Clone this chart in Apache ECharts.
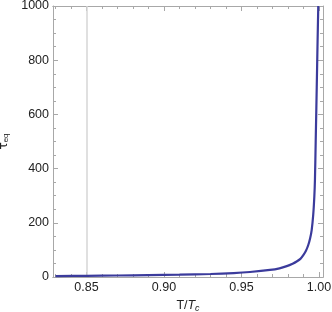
<!DOCTYPE html>
<html><head><meta charset="utf-8">
<script src="https://cdn.jsdelivr.net/npm/echarts@6/dist/echarts.min.js"></script>
<style>html,body{margin:0;padding:0;background:#fff}#c{width:332px;height:312px}</style>
</head><body><div id="c"></div>
<script>
// T / Tc values and relaxation time tau_eq
var tempRatio = [0.83, 0.85, 0.87, 0.89, 0.91, 0.93, 0.945, 0.9555, 0.9684, 0.9745, 0.9792, 0.983, 0.9856, 0.988, 0.9899, 0.9916, 0.9931, 0.9943, 0.9953, 0.9963, 0.997, 0.9974, 0.99789, 0.99856, 0.99904, 0.99955];
var tauEq = [3.5, 4.5, 5.5, 7, 8.5, 11, 14.5, 18.5, 26, 32, 40, 49, 57, 67, 81, 97, 118, 143, 173, 230, 296, 358, 500, 700, 850, 1000];
var xMajorTicks = [0.85, 0.90, 0.95, 1.00];
var xMinorTicks = [0.83, 0.84, 0.86, 0.87, 0.88, 0.89, 0.91, 0.92, 0.93, 0.94, 0.96, 0.97, 0.98, 0.99];
var yTicks = [0, 200, 400, 600, 800, 1000];
var refLineX = 0.85;

var frameColor = '#a8a8a8';
var labelColor = '#222';
var xMin = 0.8284, xMax = 1.0026;

function xAxisDef(pos, ticks, len, labels) {
  return {
    type: 'value', position: pos, min: xMin, max: xMax,
    axisLine: {show: true, onZero: false, lineStyle: {color: frameColor, width: 1}},
    axisTick: {show: true, inside: true, length: len, customValues: ticks, lineStyle: {color: frameColor}},
    axisLabel: {show: labels, customValues: ticks, margin: 4, color: labelColor, fontSize: 12.5,
      fontFamily: 'Liberation Sans, Arial', formatter: function (v) { return v.toFixed(2); }},
    splitLine: {show: false}
  };
}
var data = tempRatio.map(function (t, i) { return [t, tauEq[i]]; });

var chart = echarts.init(document.getElementById('c'), null, {renderer: 'canvas'});
var xa0 = xAxisDef('bottom', xMajorTicks, 5, true);
xa0.name = 'T/{i|T}{s|c}';
xa0.nameLocation = 'middle';
xa0.nameGap = 21;
xa0.nameTextStyle = {color: labelColor, fontSize: 12.5, fontFamily: 'Liberation Sans, Arial',
  rich: {i: {fontStyle: 'italic', fontSize: 12.5, fontFamily: 'Liberation Sans, Arial', color: labelColor},
         s: {fontStyle: 'italic', fontSize: 9, fontFamily: 'Liberation Sans, Arial', color: labelColor, verticalAlign: 'bottom', padding: [6, 0, 0, 0]}}};
chart.setOption({
  animation: false,
  grid: {left: 53, right: 9, top: 6, bottom: 35, containLabel: false, outerBoundsMode: 'none'},
  xAxis: [
    xa0,
    xAxisDef('bottom', xMinorTicks, 3, false),
    xAxisDef('top', xMajorTicks, 5, false),
    xAxisDef('top', xMinorTicks, 3, false)
  ],
  yAxis: [
    {type: 'value', position: 'left', min: 0, max: 1000, interval: 200,
     name: '\u03c4{s|eq}', nameLocation: 'middle', nameGap: 41, nameRotate: 90,
     nameTextStyle: {color: labelColor, fontSize: 12, fontFamily: 'DejaVu Sans',
       rich: {s: {fontSize: 8, fontFamily: 'Liberation Sans, Arial', color: labelColor, verticalAlign: 'bottom', padding: [5, 0, 0, 0]}}},
     axisLine: {show: true, onZero: false, lineStyle: {color: frameColor}},
     axisTick: {show: true, inside: true, length: 5, lineStyle: {color: frameColor}},
     minorTick: {show: true, splitNumber: 4, length: 3, lineStyle: {color: frameColor}},
     axisLabel: {margin: 4, color: labelColor, fontSize: 12.5, fontFamily: 'Liberation Sans, Arial',
       customValues: yTicks, formatter: function (v) { return String(v); }},
     splitLine: {show: false}, minorSplitLine: {show: false}},
    {type: 'value', position: 'right', min: 0, max: 1000, interval: 200,
     axisLine: {show: true, onZero: false, lineStyle: {color: frameColor}},
     axisTick: {show: true, inside: true, length: 5, lineStyle: {color: frameColor}},
     minorTick: {show: true, splitNumber: 4, length: 3, lineStyle: {color: frameColor}},
     axisLabel: {show: false}, splitLine: {show: false}, minorSplitLine: {show: false}}
  ],
  series: [{
    type: 'line', xAxisIndex: 0, yAxisIndex: 0, data: data, showSymbol: false, smooth: 0.3,
    lineStyle: {color: '#3b3b9c', width: 2.2}, itemStyle: {color: '#3b3b9c'},
    clip: true, z: 3,
    markLine: {silent: true, symbol: 'none', label: {show: false},
      lineStyle: {color: '#d6d6d6', width: 1.5, type: 'solid'},
      data: [{xAxis: refLineX}], z: 1}
  }]
});
</script></body></html>
